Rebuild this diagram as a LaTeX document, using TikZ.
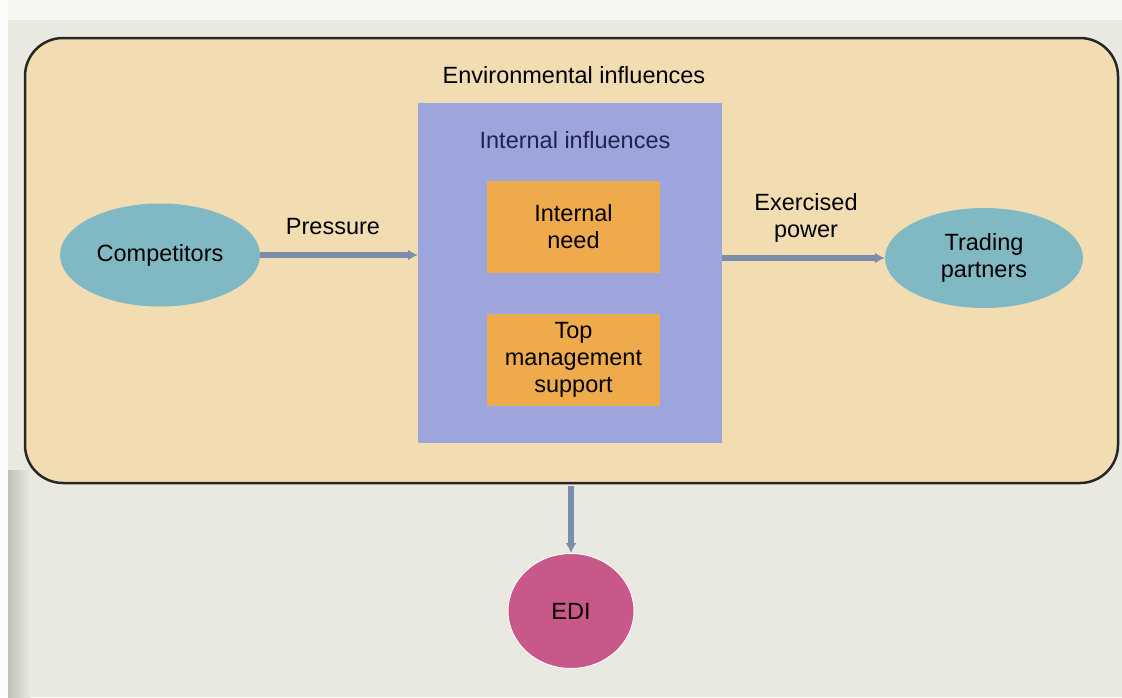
\documentclass[tikz,border=0pt]{standalone}
\usepackage{fontspec}
\setmainfont{Liberation Sans}
\usetikzlibrary{arrows.meta,shapes.geometric}
\definecolor{pagebg}{HTML}{EAE9E1}
\definecolor{envfill}{HTML}{F2DDB2}
\definecolor{blueint}{HTML}{9EA5DC}
\definecolor{orangebox}{HTML}{EFAA4C}
\definecolor{tealell}{HTML}{80B8C4}
\definecolor{edifill}{HTML}{C8588A}
\definecolor{arrowcol}{HTML}{7B8DA8}
\definecolor{navytext}{HTML}{1E2450}
\tikzset{
  lbl/.style={font=\fontsize{23.5}{27}\selectfont, align=center, text=black},
  envbox/.style={draw=black!85, line width=2.5pt, fill=envfill, rounded corners=38pt, inner sep=0pt},
  intbox/.style={fill=blueint, inner sep=0pt},
  orbox/.style={fill=orangebox, inner sep=0pt, minimum width=173pt, minimum height=92pt, lbl},
  tealnode/.style={ellipse, fill=tealell, inner sep=0pt, lbl},
  edinode/.style={ellipse, fill=edifill, draw=white!90!pink, line width=1pt, inner sep=0pt, lbl},
  flow/.style={draw=arrowcol, line width=6pt, -{Latex[length=10pt,width=11pt]}}
}
\begin{document}
\begin{tikzpicture}[x=1pt,y=-1pt]
\useasboundingbox (0,0) rectangle (1122,697);
\fill[pagebg] (0,0) rectangle (1122,697);
\fill[white!60!pagebg] (0,0) rectangle (1122,20);
\shade[left color=black!18!pagebg, right color=pagebg] (8,470) rectangle (30,697);
\fill[white!80!pagebg] (0,0) rectangle (8,697);
\node[envbox, minimum width=1093pt, minimum height=445pt] (env) at (571.5,260.5) {};
\node[lbl] (envtitle) at (574,75) {Environmental influences};
\node[intbox, minimum width=304pt, minimum height=340pt] (int) at (570,273) {};
\node[lbl, text=navytext] (inttitle) at (575,140) {Internal influences};
\node[orbox] (need) at (573.5,227) {Internal\\need};
\node[orbox] (tms) at (573.5,360) {Top\\management\\support};
\node[tealnode, minimum width=200pt, minimum height=103pt] (comp) at (160,255) {Competitors};
\node[tealnode, minimum width=198pt, minimum height=100pt] (trade) at (984,258) {Trading\\partners};
\node[edinode, minimum width=126pt, minimum height=115pt] (edi) at (571,611) {EDI};
\draw[flow] (comp.east) -- (comp.east -| int.west);
\node[lbl] (press) at (333,227) {Pressure};
\draw[flow] (int.east |- trade.west) -- (trade.west);
\node[lbl] (power) at (806,218) {Exercised\\power};
\draw[flow] (env.south -| edi.north) ++(0,1.5) coordinate (envout) (envout) -- (edi.north);
\end{tikzpicture}
\end{document}
